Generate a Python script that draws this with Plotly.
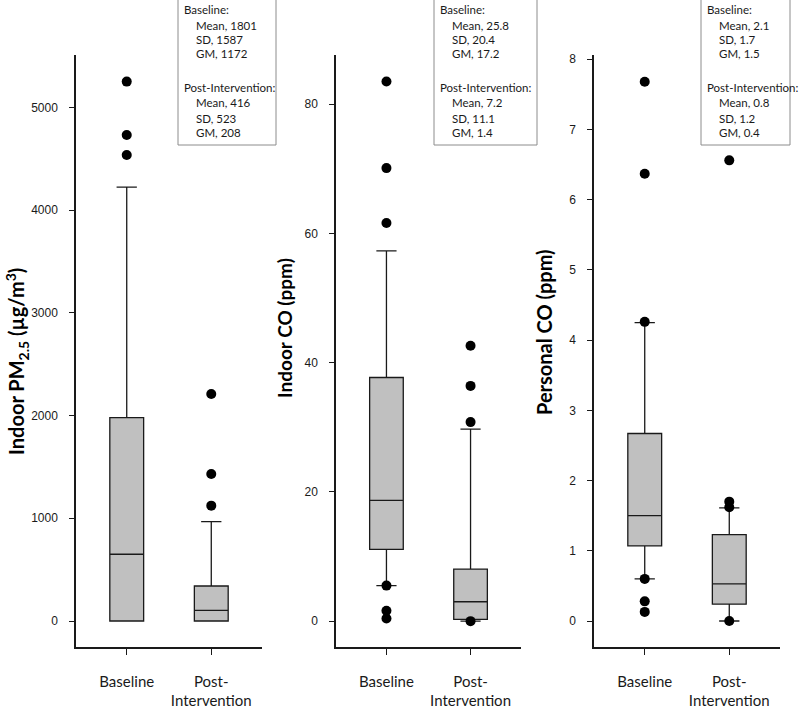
import plotly.graph_objects as go

# ---------------- data ----------------
categories = ["Baseline", "Post-Intervention"]
cat_labels = ["Baseline", "Post-<br>Intervention"]

# Indoor PM2.5 (ug/m3)
pm_q1 = [0, 0]
pm_med = [650, 104]
pm_q3 = [1980, 341]
pm_lo = [0, 0]
pm_hi = [4223, 967]
pm_out_base = [5251, 4732, 4537]
pm_out_post = [2210, 1431, 1123]

# Indoor CO (ppm)
co_q1 = [11.1, 0.26]
co_med = [18.7, 3.0]
co_q3 = [37.7, 8.05]
co_lo = [5.5, 0.0]
co_hi = [57.3, 29.7]
co_out_base = [83.5, 70.1, 61.6, 5.5, 1.6, 0.4]
co_out_post = [42.6, 36.4, 30.8, 0.0]

# Personal CO (ppm)
pco_q1 = [1.07, 0.24]
pco_med = [1.5, 0.53]
pco_q3 = [2.67, 1.23]
pco_lo = [0.6, 0.0]
pco_hi = [4.25, 1.61]
pco_out_base = [7.68, 6.37, 4.26, 0.6, 0.28, 0.13]
pco_out_post = [6.56, 1.7, 1.62, 0.0]

# summary statistics (Mean, SD, GM)
pm_stats_base = ["1801", "1587", "1172"]
pm_stats_post = ["416", "523", "208"]
co_stats_base = ["25.8", "20.4", "17.2"]
co_stats_post = ["7.2", "11.1", "1.4"]
pco_stats_base = ["2.1", "1.7", "1.5"]
pco_stats_post = ["0.8", "1.2", "0.4"]

y_titles = ["<b>Indoor PM<sub>2.5</sub> (µg/m<sup>3</sup>)</b>",
            "<b>Indoor CO (ppm)</b>",
            "<b>Personal CO (ppm)</b>"]
y_ranges = [[-253, 5510], [-4.0, 87.6], [-0.37, 8.06]]
y_dticks = [1000, 20, 1]

# ---------------- layout helpers ----------------
W, H = 800, 706
MT, MB = 55, 59
PH = H - MT - MB


def px_x(p):
    return p / W


def px_y(p):
    return (H - MB - p) / PH


x_domains = [[px_x(76), px_x(262)], [px_x(336), px_x(521)], [px_x(594), px_x(780)]]

fig = go.Figure()

panels = [
    (pm_q1, pm_med, pm_q3, pm_lo, pm_hi, pm_out_base, pm_out_post),
    (co_q1, co_med, co_q3, co_lo, co_hi, co_out_base, co_out_post),
    (pco_q1, pco_med, pco_q3, pco_lo, pco_hi, pco_out_base, pco_out_post),
]

for i, (q1, med, q3, lo, hi, ob, op) in enumerate(panels):
    sfx = "" if i == 0 else str(i + 1)
    fig.add_trace(go.Box(
        x=categories, q1=q1, median=med, q3=q3, lowerfence=lo, upperfence=hi,
        xaxis="x" + sfx, yaxis="y" + sfx,
        fillcolor="#c0c0c0", line=dict(color="#1a1a1a", width=1.3),
        width=0.4, whiskerwidth=0.6, boxpoints=False, showlegend=False,
        hoverinfo="skip",
    ))
    fig.add_trace(go.Scatter(
        x=[categories[0]] * len(ob) + [categories[1]] * len(op),
        y=ob + op, mode="markers",
        marker=dict(color="black", size=10),
        xaxis="x" + sfx, yaxis="y" + sfx, showlegend=False, hoverinfo="skip",
    ))

layout = dict(
    width=W, height=H, paper_bgcolor="white", plot_bgcolor="white",
    margin=dict(l=0, r=0, t=MT, b=MB, autoexpand=False),
    showlegend=False,
)

for i in range(3):
    sfx = "" if i == 0 else str(i + 1)
    layout["xaxis" + sfx] = dict(
        domain=x_domains[i], anchor="y" + sfx, type="category",
        range=[-0.6, 1.6], showline=True, linecolor="#1a1a1a", linewidth=1.5,
        ticks="outside", ticklen=6, tickwidth=1, tickcolor="#1a1a1a",
        tickvals=categories, ticktext=cat_labels,
        tickfont=dict(family="Lato", size=15, color="#1a1a1a"),
        ticklabelstandoff=14, showgrid=False, zeroline=False, automargin=False,
    )
    layout["yaxis" + sfx] = dict(
        domain=[0, 1], anchor="x" + sfx, range=y_ranges[i],
        tick0=0, dtick=y_dticks[i],
        showline=True, linecolor="#1a1a1a", linewidth=1.5,
        ticks="outside", ticklen=5, tickwidth=1, tickcolor="#1a1a1a",
        tickfont=dict(family="Liberation Sans", size=12, color="#1a1a1a"),
        ticklabelstandoff=9,
        showgrid=False, zeroline=False, automargin=False,
    )

fig.update_layout(**layout)

# ---------------- y-axis titles (placed as rotated text) ----------------
title_pos = [(17, 362, 20), (284, 328, 19), (544, 332, 20)]
for txt, (tx, ty, fs) in zip(y_titles, title_pos):
    fig.add_annotation(xref="paper", yref="paper", x=px_x(tx), y=px_y(ty),
                       xanchor="center", yanchor="middle", textangle=-90,
                       showarrow=False, text=txt,
                       font=dict(family="Lato", size=fs, color="black"))

# ---------------- stats boxes ----------------
box_px = [(178, 276), (434, 537), (701, 790)]
stats = [(pm_stats_base, pm_stats_post), (co_stats_base, co_stats_post),
         (pco_stats_base, pco_stats_post)]
labels = ["Mean", "SD", "GM"]
line_y = [10, 25, 40, 54, 88, 103, 118, 132]

for (x0, x1), (sb, sp) in zip(box_px, stats):
    fig.add_shape(type="rect", xref="paper", yref="paper",
                  x0=px_x(x0), x1=px_x(x1), y0=px_y(145), y1=px_y(-3),
                  line=dict(color="#8c8c8c", width=1), fillcolor="white", layer="above")
    lines = ["Baseline:"] + [f"{l}, {v}" for l, v in zip(labels, sb)] + \
            ["Post-Intervention:"] + [f"{l}, {v}" for l, v in zip(labels, sp)]
    indents = [0, 1, 1, 1, 0, 1, 1, 1]
    for txt, yy, ind in zip(lines, line_y, indents):
        fig.add_annotation(xref="paper", yref="paper",
                           x=px_x(x0 + 4 + 12 * ind), y=px_y(yy),
                           xanchor="left", yanchor="middle", showarrow=False,
                           text=txt, font=dict(family="Lato", size=11.5, color="#1a1a1a"))

# remove the default page margin so the figure fills the window exactly
fig.write_html("out.html", config={"displayModeBar": False},
               post_script="document.body.style.margin='0';document.body.style.overflow='hidden';")
